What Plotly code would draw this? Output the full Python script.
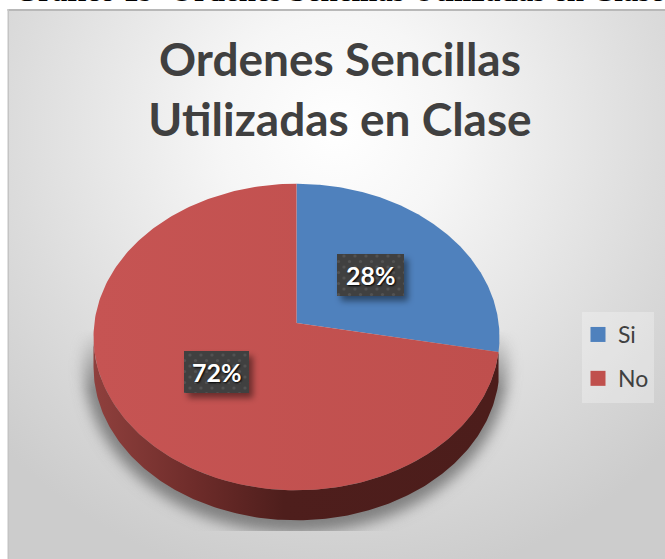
import base64
import numpy as np
import plotly.graph_objects as go

W, H = 665, 559

categories = ['Si', 'No']
values = [28, 72]
colors = ['#4f81bd', '#c0504d']
title_lines = ['Ordenes Sencillas', 'Utilizadas en Clase']
caption = 'Gráfico 19\u00a0\u00a0Ordenes Sencillas Utilizadas en Clase'

# pie geometry in pixels, tilted with some perspective so the centre sits above the ellipse middle
CX, CY = 296.5, 323
RX, RY = 203, 152
TILT = 0.0915
DEPTH = 30 / RY
label_boxes = [(337, 254, 67, 42), (184, 351, 65, 42)]
legend_box = (582, 312, 72, 91)


def svg_uri(svg):
    return 'data:image/svg+xml;base64,' + base64.b64encode(svg.encode()).decode()


def project(t):
    # t runs clockwise from 12 o'clock
    u, v = np.sin(t), np.cos(t)
    return np.sqrt(1 - TILT ** 2) * u / (1 + TILT * v), v / (1 + TILT * v)


background = f'''<svg xmlns="http://www.w3.org/2000/svg" width="{W}" height="{H}" viewBox="0 0 {W} {H}">
<defs>
<radialGradient id="bg" gradientUnits="userSpaceOnUse" cx="336" cy="130" r="460">
<stop offset="0" stop-color="#ffffff"/><stop offset="0.25" stop-color="#f6f6f6"/>
<stop offset="0.7" stop-color="#dcdcdc"/><stop offset="1" stop-color="#cccccc"/>
</radialGradient>
<linearGradient id="fade" x1="0" y1="0" x2="0" y2="1">
<stop offset="0" stop-color="#fff" stop-opacity="0"/><stop offset="0.3" stop-color="#fff" stop-opacity="1"/>
</linearGradient>
<mask id="m"><rect x="60" y="330" width="480" height="201" fill="url(#fade)"/></mask>
<filter id="soft" x="-20%" y="-20%" width="140%" height="140%"><feGaussianBlur stdDeviation="7"/></filter>
</defs>
<rect width="{W}" height="{H}" fill="#ffffff"/>
<rect x="8" y="9" width="{W}" height="{H}" fill="url(#bg)"/>
<rect x="7.5" y="9" width="{W}" height="2" fill="#b8b8b8"/>
<rect x="7.5" y="9" width="1.5" height="{H}" fill="#c4c4c4"/>
<g mask="url(#m)"><ellipse cx="296" cy="365" rx="212" ry="168" fill="#808080" filter="url(#soft)"/></g>
<rect x="{legend_box[0]}" y="{legend_box[1]}" width="{legend_box[2]}" height="{legend_box[3]}" fill="#ffffff" fill-opacity="0.28"/>
</svg>'''

boxes = ''.join(
    f'<rect x="{x + 4}" y="{y + 5}" width="{w}" height="{h}" fill="#000" fill-opacity="0.45" filter="url(#s)"/>'
    f'<rect x="{x}" y="{y}" width="{w}" height="{h}" fill="#404040"/>'
    f'<rect x="{x}" y="{y}" width="{w}" height="{h}" fill="url(#dots)"/>'
    for x, y, w, h in label_boxes
)
label_layer = f'''<svg xmlns="http://www.w3.org/2000/svg" width="{W}" height="{H}" viewBox="0 0 {W} {H}">
<defs>
<pattern id="dots" width="11" height="11" patternUnits="userSpaceOnUse">
<circle cx="3" cy="3" r="1.6" fill="#525252"/><circle cx="8.5" cy="8.5" r="1.6" fill="#525252"/>
</pattern>
<filter id="s" x="-30%" y="-30%" width="160%" height="160%"><feGaussianBlur stdDeviation="3"/></filter>
</defs>{boxes}</svg>'''

fractions = np.array(values) / sum(values)
edges = np.concatenate([[0], np.cumsum(fractions)]) * 2 * np.pi

fig = go.Figure()

# side wall of the pie, only the part of the No slice below the rim shows
wall_x, wall_y = project(np.linspace(edges[1], 1.5 * np.pi - TILT, 200))
fig.add_trace(go.Scatter(
    x=np.concatenate([wall_x, wall_x[::-1]]),
    y=np.concatenate([wall_y, wall_y[::-1] - DEPTH]),
    mode='lines', fill='toself', line=dict(width=0),
    fillgradient=dict(type='horizontal',
                      colorscale=[[0, '#8f403d'], [0.25, '#6e2c2a'], [0.47, '#4e1e1c'], [1, '#4c1d1b']]),
    hoverinfo='skip', showlegend=False,
))

for i, cat in enumerate(categories):
    rim_x, rim_y = project(np.linspace(edges[i], edges[i + 1], 240))
    trace = dict(
        x=np.concatenate([[0], rim_x, [0]]),
        y=np.concatenate([[0], rim_y, [0]]),
        mode='lines', fill='toself', line=dict(width=0),
        name=cat, hoverinfo='name', showlegend=False,
    )
    if cat == 'No':
        trace['fillgradient'] = dict(type='horizontal', colorscale=[[0, '#c65453'], [1, '#bf4f4d']])
    else:
        trace['fillcolor'] = colors[i]
    fig.add_trace(go.Scatter(**trace))

# legend swatches
for cat, col in zip(categories, colors):
    fig.add_trace(go.Scatter(
        x=[None], y=[None], mode='markers', name=cat, legendgroup=cat,
        marker=dict(symbol='square', size=15, color=col),
    ))

annotations = [
    dict(text=f'<b>{v}%</b>', x=(bx + bw / 2) / W, y=1 - (by + bh / 2) / H,
         xref='paper', yref='paper', xanchor='center', yanchor='middle', showarrow=False,
         font=dict(family='Lato', size=25, color='white', shadow='1px 1px 2px #000'))
    for v, (bx, by, bw, bh) in zip(values, label_boxes)
]
annotations.append(dict(
    text=f'<b>{caption}</b>', x=12 / W, y=1 - 3 / H, xref='paper', yref='paper',
    xanchor='left', yanchor='bottom', showarrow=False, yshift=-7, align='left',
    font=dict(family='Liberation Serif', size=31, color='black'),
))

fig.update_layout(
    width=W, height=H,
    margin=dict(l=0, r=0, t=0, b=0),
    paper_bgcolor='white', plot_bgcolor='rgba(0,0,0,0)',
    title=dict(text='<br>'.join(f'<b>{line}</b>' for line in title_lines), x=340 / W, xanchor='center',
               y=1 - 76 / H, yanchor='middle',
               font=dict(family='Lato', size=46, color='#404040')),
    xaxis=dict(range=[-CX / RX, (W - CX) / RX], visible=False, fixedrange=True),
    yaxis=dict(range=[(CY - H) / RY, CY / RY], visible=False, fixedrange=True),
    legend=dict(x=578 / W, y=1 - 313 / H, xanchor='left', yanchor='top',
                bgcolor='rgba(0,0,0,0)', tracegroupgap=11, traceorder='grouped',
                font=dict(family='Lato', size=23, color='#404040')),
    images=[
        dict(source=svg_uri(background), xref='paper', yref='paper', x=0, y=1,
             sizex=1, sizey=1, sizing='stretch', xanchor='left', yanchor='top', layer='below'),
        dict(source=svg_uri(label_layer), xref='paper', yref='paper', x=0, y=1,
             sizex=1, sizey=1, sizing='stretch', xanchor='left', yanchor='top', layer='above'),
    ],
    annotations=annotations,
)

fig.write_html('out.html', config=dict(displayModeBar=False),
               post_script="document.body.style.margin='0';")
